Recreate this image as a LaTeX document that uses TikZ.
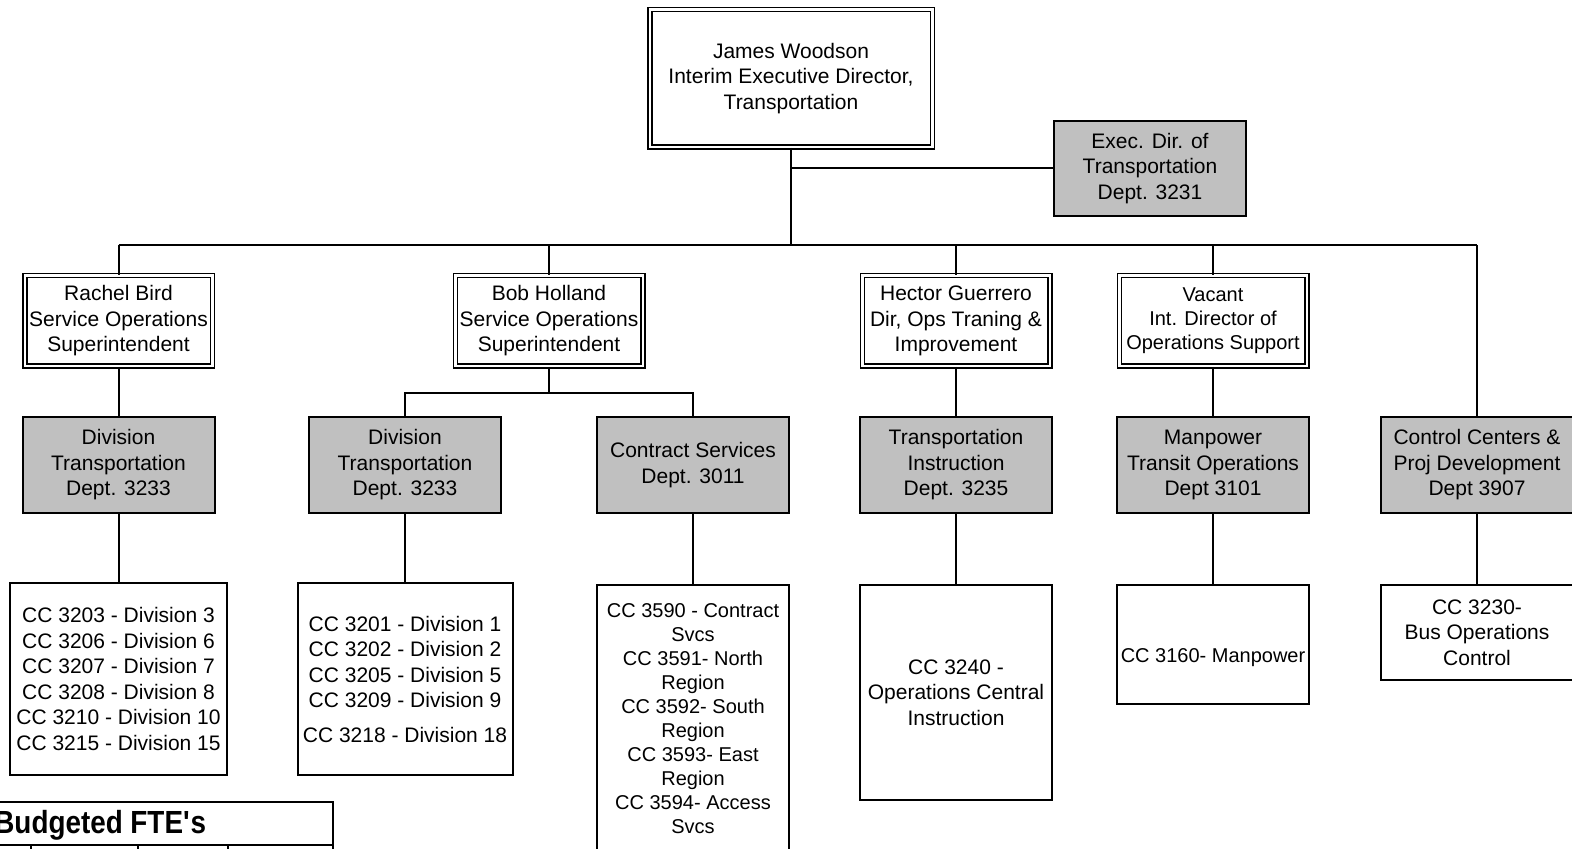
\documentclass[tikz,border=0pt]{standalone}
\usepackage{fontspec}
\setmainfont{Liberation Sans}
\newfontfamily\ftefont[FakeStretch=0.87]{Liberation Sans}
\usepackage{tikz}
\usetikzlibrary{positioning}
\definecolor{deptfill}{RGB}{192,192,192}
\tikzset{
  orgbase/.style={
    draw=black,
    line width=1pt,
    align=center,
    inner sep=1pt,
    font=\fontsize{10.5}{12.75}\selectfont
  },
  headbox/.style={
    orgbase,
    fill=white,
    double,
    line width=0.75pt,
    double distance=1.25pt,
    minimum width=93.75pt,
    minimum height=45.25pt
  },
  deptbox/.style={
    orgbase,
    fill=deptfill,
    minimum width=96pt,
    minimum height=48pt
  },
  ccbox/.style={
    orgbase,
    fill=white,
    minimum width=96pt
  },
  smalltext/.style={font=\fontsize{10}{12}\selectfont},
  link/.style={line width=1pt}
}

\begin{document}
\begin{tikzpicture}[x=0.5pt, y=-0.5pt]
  \useasboundingbox[fill=white] (0,0) rectangle (1572,849);

  % top of the chart
  \node[headbox, minimum width=141.25pt, minimum height=68.75pt] (exec) at (791,78.5) {James Woodson\\Interim Executive Director,\\Transportation};
  \node[deptbox, minimum height=47.5pt] (dept3231) at (1150,168.5) {Exec. Dir. of\\Transportation\\Dept. 3231};

  % managers
  \node[headbox] (bird) at (118.5,321) {Rachel Bird\\Service Operations\\Superintendent};
  \node[headbox] (holland) at (549,321) {Bob Holland\\Service Operations\\Superintendent};
  \node[headbox] (guerrero) at (956,321) {Hector Guerrero\\Dir, Ops Traning \&\\Improvement};
  \node[headbox, smalltext] (vacant) at (1213,321) {Vacant\\Int. Director of\\Operations Support};

  % departments
  \node[deptbox] (divA) at (118.5,465) {Division\\Transportation\\Dept. 3233};
  \node[deptbox] (divB) at (405,465) {Division\\Transportation\\Dept. 3233};
  \node[deptbox] (contract) at (693,465) {Contract Services\\Dept. 3011};
  \node[deptbox] (instr) at (956,465) {Transportation\\Instruction\\Dept. 3235};
  \node[deptbox] (manpower) at (1213,465) {Manpower\\Transit Operations\\Dept 3101};
  \node[deptbox] (control) at (1477,465) {Control Centers \&\\Proj Development\\Dept 3907};

  % cost centers
  \node[ccbox, minimum width=108.5pt, minimum height=96pt] (ccA) at (118.5,679) {CC 3203 - Division 3\\CC 3206 - Division 6\\CC 3207 - Division 7\\CC 3208 - Division 8\\CC 3210 - Division 10\\CC 3215 - Division 15};
  \node[ccbox, minimum width=107.5pt, minimum height=96pt] (ccB) at (405,679) {CC 3201 - Division 1\\CC 3202 - Division 2\\CC 3205 - Division 5\\CC 3209 - Division 9\\[4.5pt]CC 3218 - Division 18};
  \node[ccbox, smalltext, minimum height=134pt] (ccC) at (693,719) {CC 3590 - Contract\\Svcs\\CC 3591- North\\Region\\CC 3592- South\\Region\\CC 3593- East\\Region\\CC 3594- Access\\Svcs};
  \node[ccbox, minimum height=107.5pt] (ccD) at (956,692.5) {CC 3240 -\\Operations Central\\Instruction};
  \node[ccbox, smalltext, minimum height=59.5pt, text height=20pt] (ccE) at (1213,644.5) {CC 3160- Manpower};
  \node[ccbox, minimum height=47.5pt] (ccF) at (1477,632.5) {CC 3230-\\Bus Operations\\Control};

  % connectors
  \coordinate (busL) at (118.5,245);
  \coordinate (subbus) at (549,393);
  \draw[link] (exec.south) -- (exec.south |- busL);
  \draw[link] (exec.south |- dept3231.west) -- (dept3231.west);
  \draw[link] (bird.north |- busL) -- (control.north |- busL);
  \foreach \n in {bird,holland,guerrero,vacant,control}
    \draw[link] (\n.north) -- (\n.north |- busL);
  \draw[link] (bird) -- (divA);
  \draw[link] (holland.south) -- (subbus);
  \draw[link] (divB.north) |- (subbus) -| (contract.north);
  \draw[link] (guerrero) -- (instr);
  \draw[link] (vacant) -- (manpower);
  \draw[link] (divA) -- (ccA);
  \draw[link] (divB) -- (ccB);
  \draw[link] (contract) -- (ccC);
  \draw[link] (instr) -- (ccD);
  \draw[link] (manpower) -- (ccE);
  \draw[link] (control) -- (ccF);

  % FTE table
  \draw[link] (-10,900) |- (333,802) -- (333,900);
  \draw[link] (-10,845) -- (333,845);
  \foreach \xc in {31,138,228}
    \draw[link] (\xc,845) -- (\xc,900);
  \node[anchor=base west, inner sep=0pt, font=\ftefont\bfseries\fontsize{16}{19}\selectfont] (ftetitle) at (-6,833) {Budgeted FTE\textquotesingle s};
\end{tikzpicture}
\end{document}
